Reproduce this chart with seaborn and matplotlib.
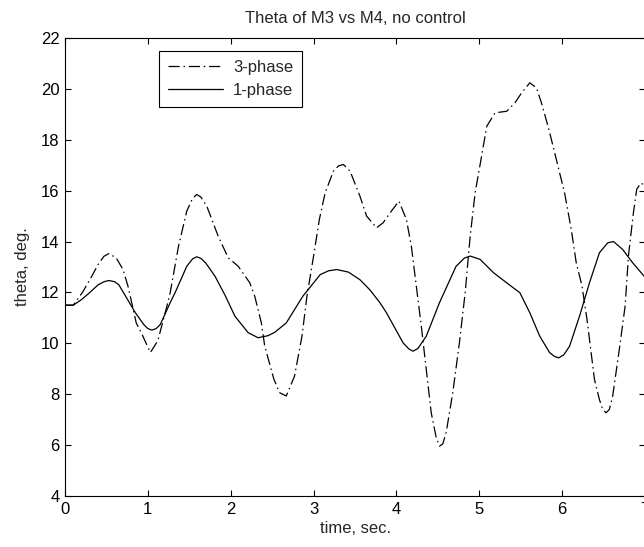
import numpy as np
import pandas as pd
import seaborn as sns
import matplotlib
matplotlib.use("Agg")
import matplotlib.pyplot as plt

# values
t_1ph = [0, 0.1, 0.2, 0.3, 0.4, 0.47, 0.53, 0.6, 0.65, 0.75, 0.85, 0.95, 1.0, 1.05, 1.1,
         1.15, 1.27, 1.33, 1.47, 1.54, 1.59, 1.64, 1.7, 1.81, 1.93, 2.05, 2.21, 2.33, 2.45,
         2.53, 2.67, 2.87, 3.08, 3.18, 3.28, 3.42, 3.56, 3.68, 3.80, 3.88, 4.08, 4.15, 4.20,
         4.26, 4.36, 4.52, 4.72, 4.82, 4.89, 5.01, 5.17, 5.33, 5.49, 5.61, 5.73, 5.85, 5.91,
         5.96, 6.02, 6.09, 6.21, 6.33, 6.45, 6.55, 6.62, 6.73, 6.85, 7.0]
theta_1ph = [11.5, 11.5, 11.72, 12.0, 12.3, 12.42, 12.47, 12.42, 12.3, 11.75, 11.2, 10.74,
             10.58, 10.52, 10.58, 10.74, 11.6, 12.0, 13.03, 13.32, 13.4, 13.34, 13.15, 12.64,
             11.9, 11.07, 10.42, 10.22, 10.3, 10.43, 10.8, 11.85, 12.7, 12.85, 12.9, 12.8,
             12.5, 12.1, 11.6, 11.2, 10.02, 9.78, 9.69, 9.8, 10.28, 11.6, 13.03, 13.35, 13.43,
             13.3, 12.78, 12.38, 11.99, 11.2, 10.28, 9.63, 9.48, 9.43, 9.55, 9.89, 11.07,
             12.38, 13.56, 13.95, 14.0, 13.69, 13.17, 12.6]

t_3ph = [0, 0.1, 0.21, 0.3, 0.4, 0.47, 0.53, 0.62, 0.70, 0.76, 0.86, 0.93, 1.03, 1.12,
         1.23, 1.27, 1.37, 1.47, 1.54, 1.59, 1.64, 1.71, 1.85, 1.97, 2.09, 2.23, 2.29,
         2.37, 2.41, 2.52, 2.59, 2.67, 2.77, 2.86, 2.92, 3.0, 3.07, 3.14, 3.24, 3.30, 3.36,
         3.44, 3.56, 3.64, 3.76, 3.84, 3.94, 4.03, 4.12, 4.18, 4.24, 4.30, 4.36, 4.42, 4.48,
         4.52, 4.56, 4.60, 4.68, 4.76, 4.83, 4.89, 4.95, 5.03, 5.09, 5.19, 5.33, 5.43, 5.51,
         5.61, 5.69, 5.75, 5.83, 5.91, 6.03, 6.11, 6.17, 6.24, 6.30, 6.35, 6.39, 6.45, 6.49,
         6.53, 6.57, 6.61, 6.69, 6.76, 6.80, 6.86, 6.90, 6.95, 7.0]
theta_3ph = [11.5, 11.5, 12.0, 12.5, 13.1, 13.42, 13.53, 13.35, 12.9, 12.25, 10.8, 10.35,
             9.64, 10.1, 11.46, 12.0, 13.82, 15.2, 15.7, 15.85, 15.75, 15.4, 14.2, 13.36,
             13.03, 12.38, 11.85, 10.8, 9.9, 8.6, 8.06, 7.93, 8.71, 10.28, 11.85, 13.43,
             14.87, 15.92, 16.77, 16.97, 17.03, 16.77, 15.78, 15.0, 14.54, 14.74, 15.2,
             15.59, 14.87, 13.82, 12.25, 10.68, 8.98, 7.27, 6.3, 5.96, 6.05, 6.49, 8.06,
             10.02, 12.0, 14.21, 15.92, 17.4, 18.53, 19.06, 19.12, 19.45, 19.84, 20.24,
             20.04, 19.45, 18.53, 17.49, 15.9, 14.48, 13.17, 12.25, 10.94, 9.63, 8.58, 7.79,
             7.4, 7.27, 7.4, 7.93, 9.76, 11.46, 13.43, 15.13, 16.05, 16.3, 16.2]

x_ticks = [0, 1, 2, 3, 4, 5, 6, 7]
y_ticks = [4, 6, 8, 10, 12, 14, 16, 18, 20, 22]

sns.set_style("ticks")
plt.rcParams['font.family'] = ['Liberation Sans', 'DejaVu Sans']

fig = plt.figure(figsize=(6.44, 5.47), dpi=100)
ax = fig.add_axes([65 / 644, 51 / 547, 580 / 644, 458 / 547])

df3 = pd.DataFrame({'t': t_3ph, 'theta': theta_3ph})
df1 = pd.DataFrame({'t': t_1ph, 'theta': theta_1ph})

sns.lineplot(data=df3, x='t', y='theta', ax=ax, color='black', lw=0.9,
             estimator=None, sort=False, label='3-phase',
             linestyle=(0, (9, 3, 1.2, 3)))
sns.lineplot(data=df1, x='t', y='theta', ax=ax, color='black', lw=0.9,
             estimator=None, sort=False, label='1-phase')

ax.set_xlim(0, 7)
ax.set_ylim(4, 22)
ax.set_xticks(x_ticks)
ax.set_yticks(y_ticks)
ax.tick_params(direction='in', top=True, right=True, length=4, width=0.8,
               labelsize=12, pad=4, colors='black')
for s in ax.spines.values():
    s.set_linewidth(0.8)
    s.set_color('black')

ax.set_title("Theta of M3 vs M4, no control", fontsize=12, pad=11)
ax.set_xlabel("time, sec.", fontsize=12, labelpad=3)
ax.set_ylabel("theta, deg.", fontsize=12, labelpad=8)

leg = ax.legend(loc='upper left', bbox_to_anchor=(0.162, 0.972), borderaxespad=0,
                fontsize=12, frameon=True, fancybox=False, handlelength=3.3,
                labelspacing=0.5, borderpad=0.55, handletextpad=0.6)
leg.get_frame().set_edgecolor('black')
leg.get_frame().set_linewidth(0.8)
leg.get_frame().set_alpha(1)

fig.savefig("out.png", dpi=100)
